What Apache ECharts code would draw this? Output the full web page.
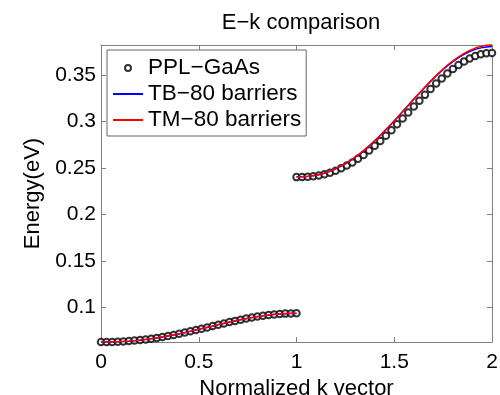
<!DOCTYPE html>
<html>
<head>
<meta charset="utf-8">
<script src="https://cdn.jsdelivr.net/npm/echarts@6/dist/echarts.min.js"></script>
<style>
  html, body { margin: 0; padding: 0; background: #fff; }
  #chart { width: 500px; height: 395px; }
</style>
</head>
<body>
<div id="chart"></div>
<script>
// k grid, first band (0..1) and second band (1..2)
const kLow = [0, 0.0286, 0.0571, 0.0857, 0.1143, 0.1429, 0.1714, 0.2, 0.2286, 0.2571, 0.2857, 0.3143,
  0.3429, 0.3714, 0.4, 0.4286, 0.4571, 0.4857, 0.5143, 0.5429, 0.5714, 0.6, 0.6286, 0.6571,
  0.6857, 0.7143, 0.7429, 0.7714, 0.8, 0.8286, 0.8571, 0.8857, 0.9143, 0.9429, 0.9714, 1];
const kHigh = [1, 1.0286, 1.0571, 1.0857, 1.1143, 1.1429, 1.1714, 1.2, 1.2286, 1.2571, 1.2857, 1.3143,
  1.3429, 1.3714, 1.4, 1.4286, 1.4571, 1.4857, 1.5143, 1.5429, 1.5714, 1.6, 1.6286, 1.6571,
  1.6857, 1.7143, 1.7429, 1.7714, 1.8, 1.8286, 1.8571, 1.8857, 1.9143, 1.9429, 1.9714, 2];

// PPL-GaAs (circles)
const pplLow = [0.0628, 0.0628, 0.0629, 0.0631, 0.0634, 0.0638, 0.0643, 0.0649, 0.0655, 0.0663, 0.0672, 0.0682,
  0.0693, 0.0704, 0.0716, 0.0729, 0.0743, 0.0757, 0.0771, 0.0785, 0.0799, 0.0814, 0.0828, 0.0842,
  0.0855, 0.0867, 0.0880, 0.0891, 0.0901, 0.0910, 0.0917, 0.0924, 0.0929, 0.0933, 0.0935, 0.0936];
const pplHigh = [0.2400, 0.2401, 0.2404, 0.2409, 0.2418, 0.2431, 0.2448, 0.2469, 0.2495, 0.2524, 0.2558, 0.2597,
  0.2639, 0.2686, 0.2736, 0.2789, 0.2846, 0.2905, 0.2967, 0.3030, 0.3094, 0.3158, 0.3222, 0.3284,
  0.3346, 0.3405, 0.3461, 0.3514, 0.3562, 0.3606, 0.3644, 0.3676, 0.3701, 0.3720, 0.3731, 0.3735];

// TB-80 barriers (blue)
const tbLow = [0.0628, 0.0628, 0.0628, 0.0630, 0.0633, 0.0637, 0.0642, 0.0648, 0.0654, 0.0662, 0.0671, 0.0681,
  0.0692, 0.0703, 0.0715, 0.0728, 0.0742, 0.0756, 0.0770, 0.0784, 0.0798, 0.0813, 0.0827, 0.0841,
  0.0854, 0.0866, 0.0879, 0.0890, 0.0900, 0.0909, 0.0916, 0.0923, 0.0928, 0.0932, 0.0934, 0.0935];
const tbHigh = [0.2403, 0.2404, 0.2408, 0.2415, 0.2426, 0.2442, 0.2463, 0.2488, 0.2518, 0.2552, 0.2591, 0.2635,
  0.2682, 0.2734, 0.2789, 0.2847, 0.2908, 0.2971, 0.3036, 0.3103, 0.3169, 0.3236, 0.3302, 0.3366,
  0.3428, 0.3488, 0.3544, 0.3596, 0.3642, 0.3685, 0.3720, 0.3750, 0.3773, 0.3789, 0.3799, 0.3803];

// TM-80 barriers (red)
const tmLow = [0.0629, 0.0629, 0.0630, 0.0632, 0.0635, 0.0639, 0.0644, 0.0650, 0.0657, 0.0665, 0.0674, 0.0684,
  0.0695, 0.0706, 0.0718, 0.0731, 0.0745, 0.0759, 0.0773, 0.0787, 0.0801, 0.0816, 0.0830, 0.0843,
  0.0856, 0.0869, 0.0881, 0.0892, 0.0902, 0.0911, 0.0918, 0.0925, 0.0930, 0.0934, 0.0936, 0.0937];
const tmHigh = [0.2405, 0.2406, 0.2410, 0.2418, 0.2429, 0.2445, 0.2466, 0.2491, 0.2521, 0.2555, 0.2594, 0.2638,
  0.2685, 0.2737, 0.2792, 0.2850, 0.2911, 0.2974, 0.3039, 0.3106, 0.3172, 0.3239, 0.3305, 0.3369,
  0.3432, 0.3493, 0.3549, 0.3602, 0.3649, 0.3693, 0.3730, 0.3762, 0.3787, 0.3805, 0.3816, 0.3820];

const xTicks = [0, 0.5, 1, 1.5, 2];
const yTicks = [0.1, 0.15, 0.2, 0.25, 0.3, 0.35];

const FONT = 'Liberation Sans';
const AXIS_GRAY = '#808080';

function pairs(xs, ys) {
  return xs.map((x, i) => [x, ys[i]]);
}

const chart = echarts.init(document.getElementById('chart'), null, { renderer: 'canvas' });

const xBase = {
  type: 'value', min: 0, max: 2, interval: 0.5,
  axisLine: { show: true, onZero: false, lineStyle: { color: AXIS_GRAY, width: 1 } },
  axisTick: { show: true, inside: true, length: 5, lineStyle: { color: AXIS_GRAY } },
  splitLine: { show: false }
};
const yBase = {
  type: 'value', min: 0.0628, max: 0.382,
  axisLine: { show: true, onZero: false, lineStyle: { color: AXIS_GRAY, width: 1 } },
  axisTick: { show: true, inside: true, length: 5, customValues: yTicks, lineStyle: { color: AXIS_GRAY } },
  splitLine: { show: false }
};

const lineCommon = {
  type: 'line', symbol: 'none', clip: false, smooth: false,
  xAxisIndex: 0, yAxisIndex: 0, z: 3
};

chart.setOption({
  animation: false,
  backgroundColor: '#fff',
  textStyle: { fontFamily: FONT },
  title: {
    text: 'E\u2212k comparison',
    left: 296, top: 7, textAlign: 'center',
    textStyle: { fontFamily: FONT, fontSize: 22, fontWeight: 'normal', color: '#000' }
  },
  // v6 would otherwise shrink the grid to keep the axis names inside
  grid: { left: 101, right: 8, top: 45, bottom: 53, containLabel: false, outerBoundsMode: 'none' },
  legend: {
    orient: 'vertical',
    left: 107, top: 50,
    padding: [5, 5, 3, 5],
    itemGap: 0,
    itemWidth: 30, itemHeight: 6,
    borderColor: '#666', borderWidth: 1, backgroundColor: '#fff',
    textStyle: { fontFamily: FONT, fontSize: 22.5, color: '#000', lineHeight: 26 },
    data: [
      { name: 'PPL\u2212GaAs' },
      { name: 'TB\u221280 barriers', itemStyle: { opacity: 0 } },
      { name: 'TM\u221280 barriers', itemStyle: { opacity: 0 } }
    ]
  },
  xAxis: [
    Object.assign({}, xBase, {
      position: 'bottom',
      name: 'Normalized k vector', nameLocation: 'middle', nameGap: 25,
      nameTextStyle: { fontFamily: FONT, fontSize: 22, color: '#000' },
      axisLabel: { show: true, margin: 10, fontFamily: FONT, fontSize: 21, color: '#000',
        showMinLabel: true, showMaxLabel: true, customValues: xTicks }
    }),
    Object.assign({}, xBase, { position: 'top', axisLabel: { show: false } })
  ],
  yAxis: [
    Object.assign({}, yBase, {
      position: 'left',
      name: 'Energy(eV)', nameLocation: 'middle', nameGap: 46,
      nameTextStyle: { fontFamily: FONT, fontSize: 22, color: '#000' },
      axisLabel: { show: true, margin: 5, fontFamily: FONT, fontSize: 21, color: '#000', customValues: yTicks }
    }),
    Object.assign({}, yBase, { position: 'right', axisLabel: { show: false } })
  ],
  series: [
    {
      name: 'PPL\u2212GaAs', type: 'scatter', clip: false,
      symbol: 'emptyCircle', symbolSize: 6.5,
      itemStyle: { color: '#000', borderColor: '#000', borderWidth: 1.3 },
      data: pairs(kLow, pplLow).concat(pairs(kHigh, pplHigh)),
      z: 2
    },
    Object.assign({}, lineCommon, {
      name: 'TB\u221280 barriers', color: '#0000ff',
      lineStyle: { color: '#0000ff', width: 1.5 }, data: pairs(kLow, tbLow)
    }),
    Object.assign({}, lineCommon, {
      name: 'TB\u221280 barriers', color: '#0000ff',
      lineStyle: { color: '#0000ff', width: 1.5 }, data: pairs(kHigh, tbHigh)
    }),
    Object.assign({}, lineCommon, {
      name: 'TM\u221280 barriers', color: '#ff0000',
      lineStyle: { color: '#ff0000', width: 1.5 }, data: pairs(kLow, tmLow)
    }),
    Object.assign({}, lineCommon, {
      name: 'TM\u221280 barriers', color: '#ff0000',
      lineStyle: { color: '#ff0000', width: 1.5 }, data: pairs(kHigh, tmHigh)
    })
  ]
});
</script>
</body>
</html>
